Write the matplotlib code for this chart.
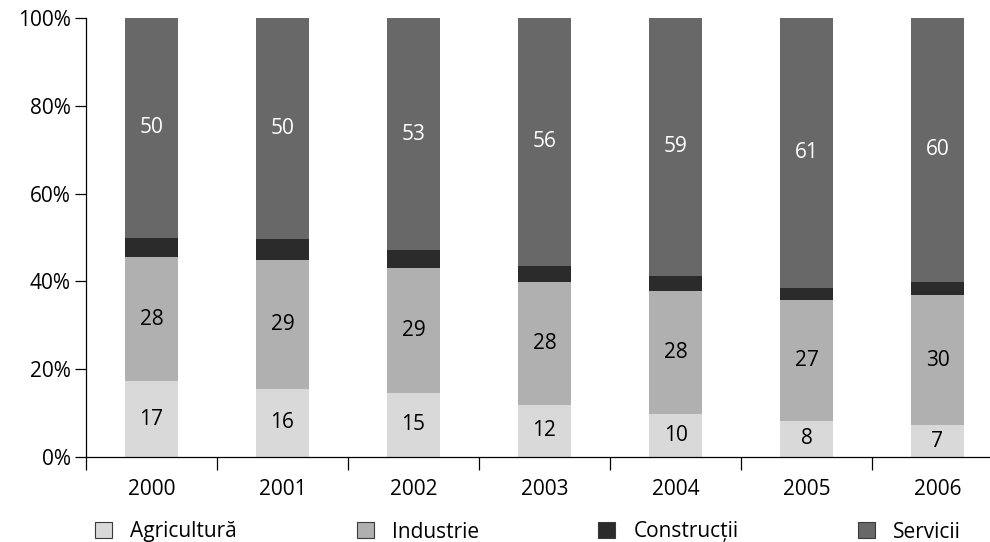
import matplotlib
matplotlib.use("Agg")
import matplotlib.pyplot as plt
from matplotlib.patches import Patch
import numpy as np

plt.rcParams['font.family'] = ['Open Sans', 'DejaVu Sans']

years = ["2000", "2001", "2002", "2003", "2004", "2005", "2006"]
agricultura = [17.2, 15.6, 14.6, 11.9, 9.7, 8.3, 7.2]
industrie = [28.4, 29.3, 28.6, 28.0, 28.1, 27.4, 29.6]
constructii = [4.3, 4.8, 3.9, 3.6, 3.5, 2.9, 3.1]
servicii = [50.1, 50.3, 53.0, 56.4, 58.7, 61.4, 60.1]

names = ["Agricultură", "Industrie", "Construcții", "Servicii"]
colors = ["#d9d9d9", "#b0b0b0", "#2b2b2b", "#686868"]
txtcol = ["black", "black", None, "white"]
fs = 15

series = np.array([agricultura, industrie, constructii, servicii])
shares = series / series.sum(axis=0) * 100

fig = plt.figure(figsize=(9.9, 5.42), dpi=100)
W, H = 990, 542
ax = fig.add_axes([86 / W, (H - 457) / H, 917 / W, 439 / H])

x = np.arange(len(years))
bottom = np.zeros(len(years))
for k in range(4):
    ax.bar(x, shares[k], 0.405, bottom=bottom, color=colors[k], linewidth=0)
    if txtcol[k]:
        for i in range(len(years)):
            ax.text(x[i], bottom[i] + shares[k][i] / 2, "%d" % round(series[k][i]),
                    ha="center", va="center", fontsize=fs, color=txtcol[k])
    bottom += shares[k]

ax.set_xlim(-0.5, len(years) - 0.5)
ax.set_ylim(0, 100)
ax.set_yticks([0, 20, 40, 60, 80, 100])
ax.set_yticklabels(["0%", "20%", "40%", "60%", "80%", "100%"])
ax.set_xticks(x)
ax.set_xticklabels(years)
ax.set_xticks(np.arange(-0.5, len(years)), minor=True)
ax.tick_params(axis="x", which="major", length=0, pad=16, labelsize=fs)
ax.tick_params(axis="x", which="minor", length=9, direction="out", width=0.9)
ax.tick_params(axis="y", length=8, width=0.9, labelsize=fs, pad=3)
for s in ["top", "right"]:
    ax.spines[s].set_visible(False)
ax.spines["left"].set_linewidth(0.9)
ax.spines["bottom"].set_linewidth(0.9)

# legend, four fixed slots
slots = [95, 357, 598, 858]
for k in range(4):
    h = Patch(facecolor=colors[k], edgecolor="#3a3a3a", linewidth=0.8)
    fig.legend([h], [names[k]], loc="center left", bbox_to_anchor=(slots[k] / W, (H - 532) / H),
               frameon=False, fontsize=fs, handlelength=0.8, handleheight=0.8,
               handletextpad=0.9, borderpad=0, borderaxespad=0)

fig.savefig("out.png", dpi=100)
